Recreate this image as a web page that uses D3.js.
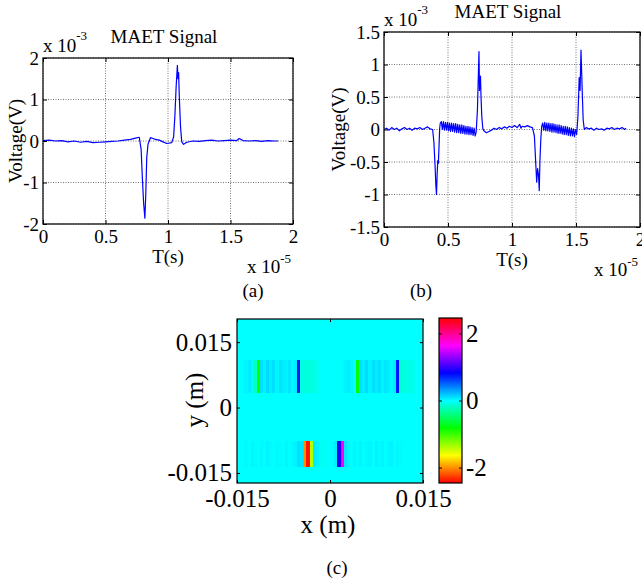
<!DOCTYPE html>
<html>
<head>
<meta charset="utf-8">
<script src="https://cdn.jsdelivr.net/npm/d3@7"></script>
<style>
body { margin: 0; background: #fff; }
svg { display: block; }
</style>
</head>
<body>
<div id="figure"></div>
<script>
// ---- data ----
// time in units of 1e-5 s, voltage in units of 1e-3 V
const timeTicks = [0, 0.5, 1, 1.5, 2];
const voltTicksA = [-2, -1, 0, 1, 2];
const voltTicksB = [-1.5, -1, -0.5, 0, 0.5, 1, 1.5];

const signalA = [
    [0, 0.01], [0.05, 0.02], [0.1, 0], [0.15, 0.01], [0.2, -0.02], [0.25, 0], [0.3, -0.03], [0.35, -0.01],
    [0.4, -0.04], [0.45, -0.03], [0.5, -0.02], [0.55, -0.01], [0.6, 0], [0.65, 0.02], [0.7, 0.04], [0.74, 0.07],
    [0.77, 0.09], [0.785, -0.2], [0.795, -0.9], [0.805, -1.5], [0.815, -1.86], [0.822, -1.3], [0.83, -0.4],
    [0.84, -0.08], [0.86, 0.08], [0.88, 0.06], [0.9, 0.04], [0.93, 0.02], [0.96, -0.02], [0.99, -0.06],
    [1.03, -0.04], [1.045, 0.1], [1.055, 0.6], [1.065, 1.3], [1.075, 1.82], [1.08, 1.5], [1.085, 1.65],
    [1.09, 1.1], [1.1, 0.35], [1.11, -0.02], [1.125, -0.08], [1.15, -0.03], [1.2, 0], [1.25, -0.01],
    [1.3, 0.01], [1.35, 0.02], [1.4, 0], [1.45, 0.01], [1.5, 0.02], [1.55, 0.01], [1.57, 0.06], [1.6, 0.01],
    [1.65, 0], [1.7, 0.01], [1.75, -0.01], [1.8, 0.01], [1.85, 0], [1.88, 0]
];

const signalB = [
    [0, 0], [0.02, 0.02], [0.04, -0.01], [0.06, 0.03], [0.08, 0], [0.1, 0.02], [0.12, -0.02], [0.14, 0.01],
    [0.16, 0.03], [0.18, 0], [0.2, 0.02], [0.22, -0.01], [0.24, 0.02], [0.26, 0.01], [0.28, 0.03], [0.3, 0],
    [0.32, 0.02], [0.34, 0.04], [0.36, 0.01], [0.38, 0],
    [0.39, -0.2], [0.4, -0.6], [0.405, -0.86], [0.41, -1.0], [0.415, -0.7], [0.42, -0.48], [0.425, -0.52],
    [0.43, -0.25], [0.435, 0.02], [0.44, 0.1],
    [0.448, 0.12], [0.456, 0], [0.464, 0.12], [0.472, -0.01], [0.48, 0.11], [0.488, -0.01], [0.496, 0.11],
    [0.504, -0.02], [0.512, 0.1], [0.52, -0.03], [0.528, 0.1], [0.536, -0.03], [0.544, 0.09], [0.552, -0.04],
    [0.56, 0.09], [0.568, -0.05], [0.576, 0.08], [0.584, -0.05], [0.592, 0.07], [0.6, -0.06], [0.608, 0.07],
    [0.616, -0.06], [0.624, 0.06], [0.632, -0.07], [0.64, 0.05], [0.648, -0.07], [0.656, 0.05], [0.664, -0.08],
    [0.672, 0.04], [0.68, -0.08], [0.688, 0.03], [0.696, -0.09], [0.704, 0.02], [0.712, -0.1], [0.72, -0.04],
    [0.73, 0.3], [0.738, 0.9], [0.742, 1.2], [0.746, 0.6], [0.75, 0.75], [0.754, 0.82], [0.758, 0.5],
    [0.764, 0.2], [0.772, 0.02], [0.78, -0.02],
    [0.8, -0.05], [0.82, -0.03], [0.84, -0.01], [0.86, 0.02], [0.88, 0], [0.9, 0.03], [0.92, 0.01], [0.94, 0.04],
    [0.96, 0.02], [0.98, 0.05], [1.0, 0.03], [1.02, 0.06], [1.04, 0.03], [1.06, 0.08], [1.07, 0.02], [1.08, 0.05],
    [1.1, 0.04], [1.12, 0.06], [1.14, 0.04], [1.16, 0.03],
    [1.175, -0.1], [1.185, -0.5], [1.193, -0.81], [1.2, -0.6], [1.207, -0.7], [1.213, -0.94], [1.218, -0.5],
    [1.225, -0.15], [1.232, 0.05],
    [1.24, 0.1], [1.248, -0.01], [1.256, 0.11], [1.264, -0.02], [1.272, 0.1], [1.28, -0.02], [1.288, 0.1],
    [1.296, -0.03], [1.304, 0.09], [1.312, -0.04], [1.32, 0.09], [1.328, -0.04], [1.336, 0.08], [1.344, -0.05],
    [1.352, 0.07], [1.36, -0.06], [1.368, 0.07], [1.376, -0.06], [1.384, 0.06], [1.392, -0.07], [1.4, 0.05],
    [1.408, -0.08], [1.416, 0.05], [1.424, -0.08], [1.432, 0.04], [1.44, -0.09], [1.448, 0.03], [1.456, -0.1],
    [1.464, 0.02], [1.472, -0.1], [1.48, 0.01], [1.488, -0.11], [1.496, 0], [1.505, -0.08],
    [1.515, 0.2], [1.525, 0.8], [1.532, 0.6], [1.539, 1.22], [1.545, 0.83], [1.55, 0.5], [1.556, 0.15], [1.565, 0],
    [1.58, 0.03], [1.6, 0.01], [1.62, 0.02], [1.64, -0.01], [1.66, 0.02], [1.68, 0], [1.7, 0.01], [1.72, -0.01],
    [1.74, 0.02], [1.76, 0.01], [1.78, 0.03], [1.8, 0], [1.82, 0.02], [1.84, 0.01], [1.86, 0.03], [1.88, 0], [1.89, 0.02]
];

// image (c): x, y in metres
const spaceTicks = [-0.015, 0, 0.015];
const colorTicks = [-2, 0, 2];
const colorRange = [-2.46, 2.46];
const backgroundValue = 0;
const columnStart = -0.0138, columnStep = 0.0005;
const topBandY = [0.0034, 0.0108];
const bottomBandY = [-0.0137, -0.0076];
const topBandValues = [
    0.03, 0.06, 0.02, -0.2, -0.85, 0.1, 0.04, 0.12, 0.06, 0.1, 0.03, 0.09, 0.05, 0.04, 0.08, 0.02, 0.06,
    0.75, -0.1, -0.14, -0.1, -0.12, -0.08, -0.05, 0, 0, 0, 0, 0, 0, 0, 0.01, 0.04, 0.06, 0.03, 0,
    -0.85, 0.1, 0.05, 0.12, 0.04, 0.1, 0.06, 0.1, 0.03, 0.08, 0.05, 0.02, 0.06,
    0.75, -0.12, -0.1, -0.08, -0.1, -0.05
];
const bottomBandValues = [
    0.02, 0, 0.03, 0.01, 0, 0.02, 0, 0.04, 0.01, 0, 0.02, 0.01, 0, 0.03, 0, 0.02, 0.04,
    0.1, 0.08, -2.0, -2.4, -1.4, 0.06, 0.04, -0.05, -0.03, -0.02, 0, -0.04, 0.05, 0.9, 1.7, 0.08,
    0.02, 0, 0.03, 0.01, 0.04, 0, 0.02, 0.03, 0, 0.04, 0.01, 0.03, 0, 0.02, 0.04, 0, 0.02, 0.01
];

// ---- drawing ----
const fontFamily = '"Liberation Serif", "Times New Roman", serif';

let svg = d3.select("#figure")
    .append("svg")
    .attr("width", 642)
    .attr("height", 580)
    .attr("font-family", fontFamily);

svg.append("rect").attr("width", 642).attr("height", 580).attr("fill", "#fff");

function styleAxis(sel, size) {
    sel.attr("font-size", size).attr("font-family", fontFamily);
    sel.select(".domain").remove();
    sel.selectAll(".tick line").attr("stroke", "#000");
    sel.selectAll(".tick text").attr("fill", "#000");
}

function drawSignal(cfg) {
    let x = d3.scaleLinear().domain([0, 2]).range([cfg.left, cfg.right]);
    let y = d3.scaleLinear().domain(cfg.yDomain).range([cfg.bottom, cfg.top]);
    let g = svg.append("g");

    // dotted grid
    g.selectAll(".vgrid")
        .data(timeTicks)
        .enter()
        .append("line")
        .attr("x1", d => x(d)).attr("x2", d => x(d))
        .attr("y1", cfg.top).attr("y2", cfg.bottom)
        .attr("stroke", "#555").attr("stroke-width", 0.8).attr("stroke-dasharray", "1,1.5");

    g.selectAll(".hgrid")
        .data(cfg.yTicks)
        .enter()
        .append("line")
        .attr("x1", cfg.left).attr("x2", cfg.right)
        .attr("y1", d => y(d)).attr("y2", d => y(d))
        .attr("stroke", "#555").attr("stroke-width", 0.8).attr("stroke-dasharray", "1,1.5");

    g.append("path")
        .datum(cfg.data)
        .attr("fill", "none")
        .attr("stroke", "#0000ff")
        .attr("stroke-width", 1.2)
        .attr("stroke-linejoin", "round")
        .attr("d", d3.line()
            .x(d => x(d[0]))
            .y(d => y(d[1]))
        );

    // axes, ticks pointing inward
    g.append("g")
        .attr("transform", "translate(0," + cfg.bottom + ")")
        .call(d3.axisBottom(x).tickValues(timeTicks).tickSizeInner(-4).tickSizeOuter(0).tickPadding(6).tickFormat(d => String(d)))
        .call(styleAxis, 19);
    g.append("g")
        .attr("transform", "translate(0," + cfg.top + ")")
        .call(d3.axisTop(x).tickValues(timeTicks).tickSizeInner(-4).tickSizeOuter(0).tickFormat(""))
        .call(styleAxis, 19);
    g.append("g")
        .attr("transform", "translate(" + cfg.left + ",0)")
        .call(d3.axisLeft(y).tickValues(cfg.yTicks).tickSizeInner(-4).tickSizeOuter(0).tickPadding(4).tickFormat(d => String(d)))
        .call(styleAxis, 19);
    g.append("g")
        .attr("transform", "translate(" + cfg.right + ",0)")
        .call(d3.axisRight(y).tickValues(cfg.yTicks).tickSizeInner(-4).tickSizeOuter(0).tickFormat(""))
        .call(styleAxis, 19);

    g.append("rect")
        .attr("x", cfg.left).attr("y", cfg.top)
        .attr("width", cfg.right - cfg.left).attr("height", cfg.bottom - cfg.top)
        .attr("fill", "none").attr("stroke", "#000").attr("stroke-width", 1.2);

    // labels
    g.append("text")
        .attr("x", (cfg.left + cfg.right) / 2 + cfg.titleShift).attr("y", cfg.titleY)
        .attr("text-anchor", "middle").attr("font-size", 19)
        .text("MAET Signal");

    let ex = g.append("text").attr("x", cfg.left).attr("y", cfg.top - 6).attr("font-size", 19);
    ex.append("tspan").text("x 10");
    ex.append("tspan").attr("dy", -12).attr("font-size", 13).text("-3");

    g.append("text")
        .attr("x", (cfg.left + cfg.right) / 2).attr("y", cfg.bottom + 39)
        .attr("text-anchor", "middle").attr("font-size", 19)
        .text("T(s)");

    let ex2 = g.append("text").attr("x", cfg.right - 46).attr("y", cfg.bottom + 49).attr("font-size", 19);
    ex2.append("tspan").text("x 10");
    ex2.append("tspan").attr("dy", -10).attr("font-size", 13).text("-5");

    g.append("text")
        .attr("transform", "translate(" + (cfg.left - cfg.labelGap) + "," + ((cfg.top + cfg.bottom) / 2) + ")rotate(-90)")
        .attr("text-anchor", "middle").attr("font-size", 19)
        .text("Voltage(V)");

    g.append("text")
        .attr("x", cfg.captionX).attr("y", 297)
        .attr("text-anchor", "middle").attr("font-size", 19)
        .text(cfg.caption);
}

drawSignal({
    data: signalA, yDomain: [-2, 2], yTicks: voltTicksA,
    left: 43, right: 293, top: 58, bottom: 224, labelGap: 21,
    titleY: 43, titleShift: -4, caption: "(a)", captionX: 253
});

drawSignal({
    data: signalB, yDomain: [-1.5, 1.5], yTicks: voltTicksB,
    left: 384, right: 640, top: 32, bottom: 227, labelGap: 39,
    titleY: 18, titleShift: -4, caption: "(b)", captionX: 421
});

// ---- (c) image with colorbar ----
let hx = d3.scaleLinear().domain([-0.015, 0.015]).range([237, 423]);
let hy = d3.scaleLinear().domain([-0.0173, 0.0203]).range([483, 319]);
let color = d3.scaleSequential(t => d3.hsl(t * 360, 1, 0.5).toString()).domain(colorRange);

let gc = svg.append("g");

gc.append("rect")
    .attr("x", hx.range()[0]).attr("y", hy.range()[1])
    .attr("width", hx.range()[1] - hx.range()[0]).attr("height", hy.range()[0] - hy.range()[1])
    .attr("fill", color(backgroundValue));

function drawBand(values, yExtent) {
    gc.append("g")
        .attr("shape-rendering", "crispEdges")
        .selectAll("rect")
        .data(values)
        .enter()
        .append("rect")
        .attr("x", (d, i) => hx(columnStart + i * columnStep))
        .attr("width", (d, i) => hx(columnStart + (i + 1) * columnStep) - hx(columnStart + i * columnStep) + 0.4)
        .attr("y", hy(yExtent[1]))
        .attr("height", hy(yExtent[0]) - hy(yExtent[1]))
        .attr("fill", d => color(d));
}
drawBand(topBandValues, topBandY);
drawBand(bottomBandValues, bottomBandY);

gc.append("g")
    .attr("transform", "translate(0," + hy.range()[0] + ")")
    .call(d3.axisBottom(hx).tickValues(spaceTicks).tickSizeInner(-3).tickSizeOuter(0).tickPadding(6).tickFormat(d => String(d)))
    .call(styleAxis, 25);
gc.append("g")
    .attr("transform", "translate(0," + hy.range()[1] + ")")
    .call(d3.axisTop(hx).tickValues(spaceTicks).tickSizeInner(-3).tickSizeOuter(0).tickFormat(""))
    .call(styleAxis, 25);
gc.append("g")
    .attr("transform", "translate(" + hx.range()[0] + ",0)")
    .call(d3.axisLeft(hy).tickValues(spaceTicks).tickSizeInner(-3).tickSizeOuter(0).tickPadding(5).tickFormat(d => String(d)))
    .call(styleAxis, 25);
gc.append("g")
    .attr("transform", "translate(" + hx.range()[1] + ",0)")
    .call(d3.axisRight(hy).tickValues(spaceTicks).tickSizeInner(-3).tickSizeOuter(0).tickFormat(""))
    .call(styleAxis, 25);

gc.append("rect")
    .attr("x", hx.range()[0]).attr("y", hy.range()[1])
    .attr("width", hx.range()[1] - hx.range()[0]).attr("height", hy.range()[0] - hy.range()[1])
    .attr("fill", "none").attr("stroke", "#000").attr("stroke-width", 1.2);

gc.append("text")
    .attr("x", 328).attr("y", 533)
    .attr("text-anchor", "middle").attr("font-size", 25)
    .text("x (m)");

gc.append("text")
    .attr("transform", "translate(203,400)rotate(-90)")
    .attr("text-anchor", "middle").attr("font-size", 25)
    .text("y (m)");

gc.append("text")
    .attr("x", 337).attr("y", 574)
    .attr("text-anchor", "middle").attr("font-size", 19)
    .text("(c)");

// colorbar
let cb = d3.scaleLinear().domain(colorRange).range([483, 318]);
let cbLeft = 439, cbRight = 462;

let grad = svg.append("defs").append("linearGradient")
    .attr("id", "hsvbar")
    .attr("x1", 0).attr("y1", 1).attr("x2", 0).attr("y2", 0);
grad.selectAll("stop")
    .data(d3.range(0, 1.0001, 1 / 24))
    .enter()
    .append("stop")
    .attr("offset", d => d)
    .attr("stop-color", d => color(colorRange[0] + d * (colorRange[1] - colorRange[0])));

gc.append("rect")
    .attr("x", cbLeft).attr("y", cb.range()[1])
    .attr("width", cbRight - cbLeft).attr("height", cb.range()[0] - cb.range()[1])
    .attr("fill", "url(#hsvbar)")
    .attr("stroke", "#000").attr("stroke-width", 1.2);

gc.append("g")
    .attr("transform", "translate(" + cbRight + ",0)")
    .call(d3.axisRight(cb).tickValues(colorTicks).tickSizeInner(-3).tickSizeOuter(0).tickPadding(4).tickFormat(d => String(d)))
    .call(styleAxis, 25);
gc.append("g")
    .attr("transform", "translate(" + cbLeft + ",0)")
    .call(d3.axisLeft(cb).tickValues(colorTicks).tickSizeInner(-3).tickSizeOuter(0).tickFormat(""))
    .call(styleAxis, 25);
</script>
</body>
</html>
